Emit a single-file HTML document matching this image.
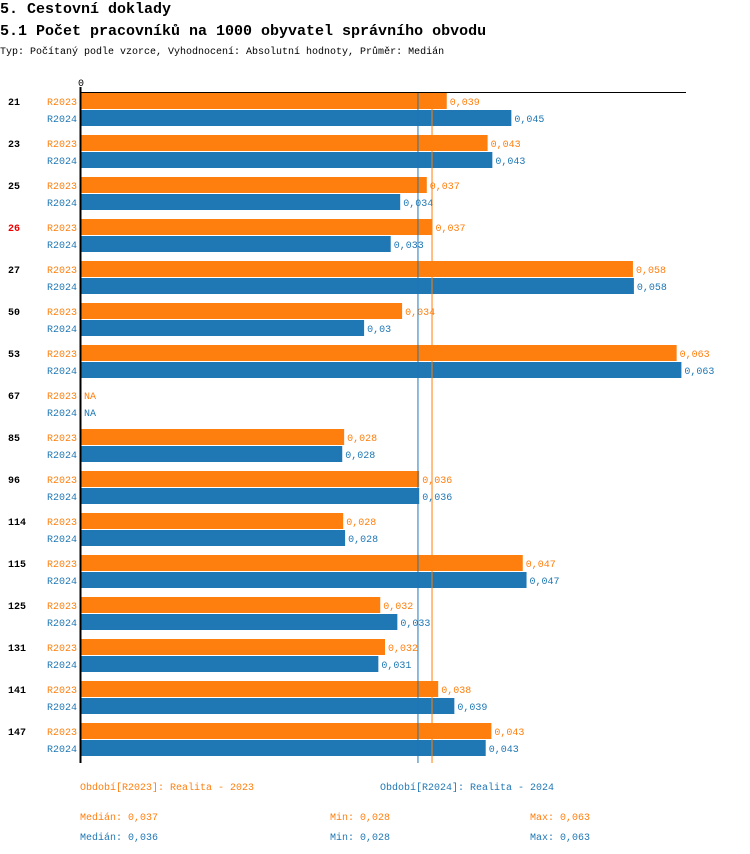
<!DOCTYPE html>
<html><head><meta charset="utf-8">
<style>
body{margin:0;background:#fff;width:750px;height:854px;overflow:hidden}
svg{display:block}
text{font-family:"Liberation Mono",monospace}
</style></head>
<body>
<svg id="c" width="750" height="854" xmlns="http://www.w3.org/2000/svg">
<text x="0" y="13" font-size="15" font-weight="bold">5. Cestovní doklady</text>
<text x="0" y="35" font-size="15" font-weight="bold">5.1 Počet pracovníků na 1000 obyvatel správního obvodu</text>
<text x="0" y="54" font-size="10">Typ: Počítaný podle vzorce, Vyhodnocení: Absolutní hodnoty, Průměr: Medián</text>
<g id="plot"></g>
<text x="80" y="790" font-size="10" fill="#ff7f0e">Období[R2023]: Realita - 2023</text>
<text x="380" y="790" font-size="10" fill="#1f77b4">Období[R2024]: Realita - 2024</text>
<text x="80" y="820" font-size="10" fill="#ff7f0e">Medián: 0,037</text>
<text x="330" y="820" font-size="10" fill="#ff7f0e">Min: 0,028</text>
<text x="530" y="820" font-size="10" fill="#ff7f0e">Max: 0,063</text>
<text x="80" y="840" font-size="10" fill="#1f77b4">Medián: 0,036</text>
<text x="330" y="840" font-size="10" fill="#1f77b4">Min: 0,028</text>
<text x="530" y="840" font-size="10" fill="#1f77b4">Max: 0,063</text>
</svg>
<script>
const categories=["21","23","25","26","27","50","53","67","85","96","114","115","125","131","141","147"];
const highlighted=["26"];
const values2023=[0.0385,0.0428,0.0364,0.037,0.0581,0.0338,0.0627,null,0.0277,0.0356,0.0276,0.0465,0.0315,0.032,0.0376,0.0432];
const values2024=[0.0453,0.0433,0.0336,0.0326,0.0582,0.0298,0.0632,null,0.0275,0.0356,0.0278,0.0469,0.0333,0.0313,0.0393,0.0426];
const labels2023=["0,039","0,043","0,037","0,037","0,058","0,034","0,063","NA","0,028","0,036","0,028","0,047","0,032","0,032","0,038","0,043"];
const labels2024=["0,045","0,043","0,034","0,033","0,058","0,03","0,063","NA","0,028","0,036","0,028","0,047","0,033","0,031","0,039","0,043"];
const median2023=0.03695, median2024=0.03547;
const NS="http://www.w3.org/2000/svg";
const plotG=document.getElementById('plot');
const x0=81, k=9500;
const xs=v=>x0+v*k;
const rowY=i=>93+42*i;
function mk(t,a){const e=document.createElementNS(NS,t);for(const n in a)e.setAttribute(n,a[n]);plotG.appendChild(e);return e;}
const C1="#ff7f0e",C2="#1f77b4";
categories.forEach((c,i)=>{
  const y=rowY(i);
  const cl=mk('text',{x:8,y:y+12,'font-size':10,'font-weight':'bold',fill:highlighted.includes(c)?'#e00':'#000'});
  cl.textContent=c;
  
  
  [[values2023,labels2023,C1,'R2023',0],[values2024,labels2024,C2,'R2024',17]].forEach(([vals,labs,col,s,off])=>{
    const sl=mk('text',{x:47,y:y+off+12,'font-size':10,fill:col});
    sl.textContent=s;
    
    
    const v=vals[i];
    let end=x0+3;
    if(v!=null){
      const r=mk('rect',{x:x0,y:y+off,width:xs(v)-x0,height:16,fill:col});
      
      
      end=xs(v)+3;
    }
    const vl=mk('text',{x:end,y:y+off+12,'font-size':10,fill:col});
    vl.textContent=labs[i];
    
    
  });
});
const yEnd=rowY(categories.length)-2;
const m1=mk('line',{x1:xs(median2024),x2:xs(median2024),y1:92,y2:yEnd,stroke:C2,'stroke-width':1});


const m2=mk('line',{x1:xs(median2023),x2:xs(median2023),y1:92,y2:yEnd,stroke:C1,'stroke-width':1});


const topLine=mk('line',{x1:80,x2:686,y1:92.5,y2:92.5,stroke:'#000','stroke-width':1});


const ax=mk('line',{x1:80.5,x2:80.5,y1:87,y2:yEnd,stroke:'#000','stroke-width':2});


const z=mk('text',{x:78,y:86,'font-size':10});
z.textContent='0';


</script>
</body></html>
